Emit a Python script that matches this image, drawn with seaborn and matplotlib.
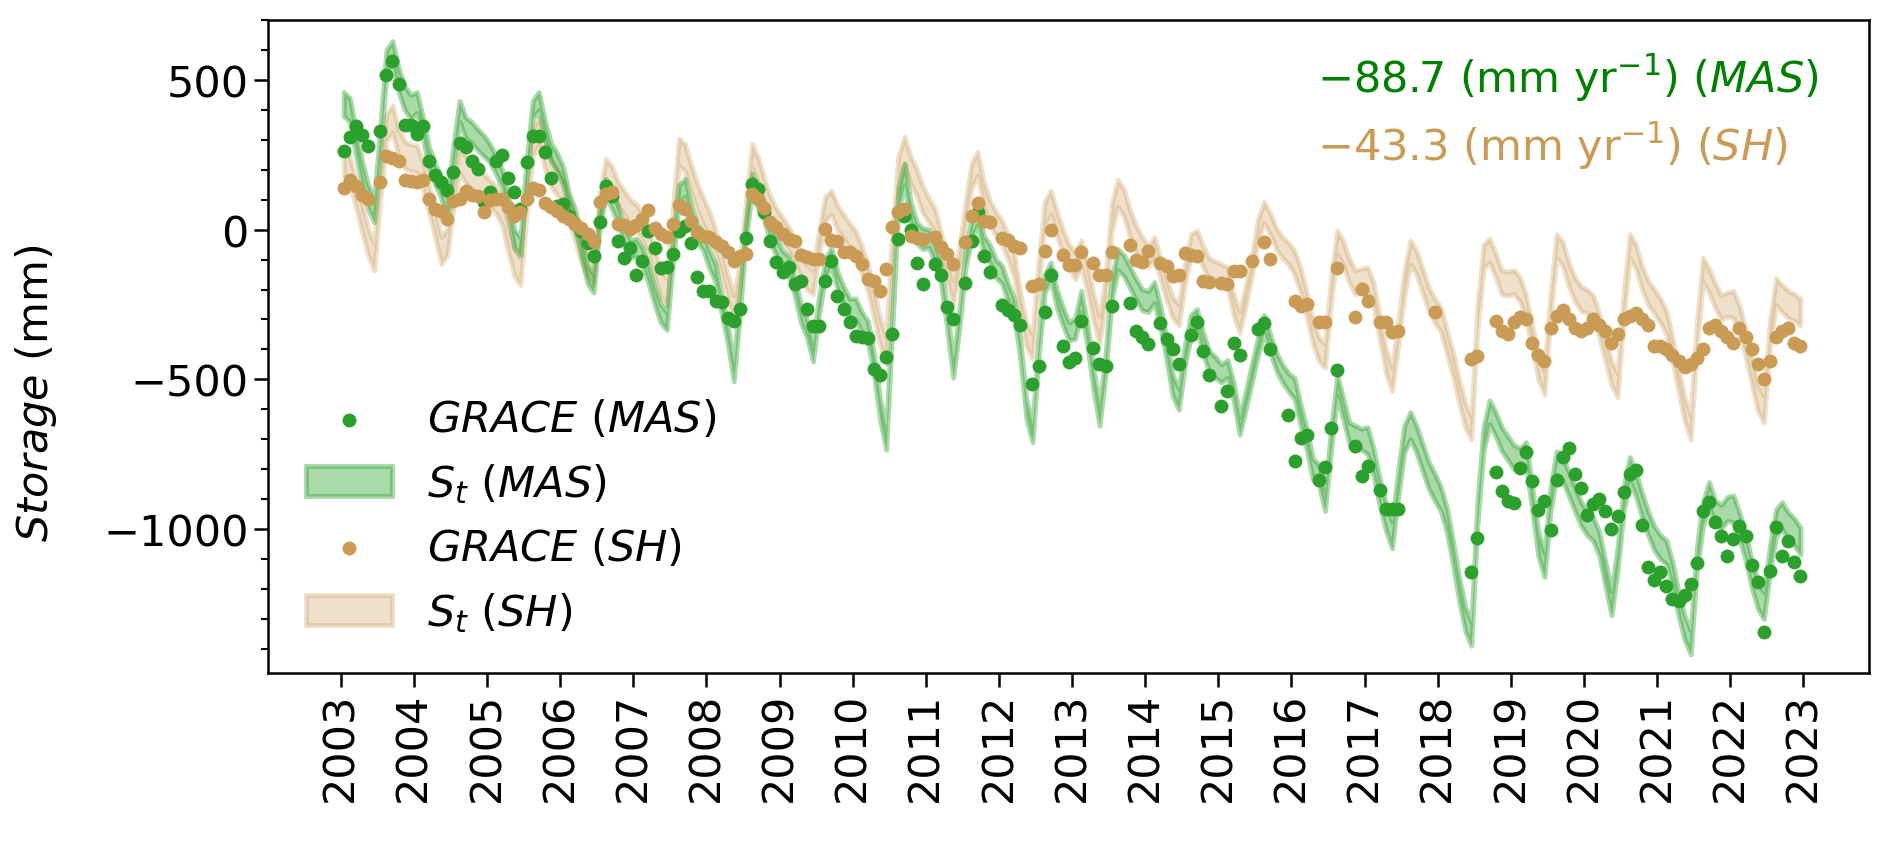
import numpy as np
import pandas as pd
import seaborn as sns
import matplotlib.pyplot as plt
from matplotlib.ticker import MultipleLocator

# GRACE monthly storage (mm), Jan 2003 .. Dec 2022, None = no data
grace_mas = [
    264, 309, 345, 316, 281, None, 331, 517, 565, 487, 350, 350,
    320, 345, 230, 183, 158, 134, 192, 289, 275, 230, 203, 91,
    125, 230, 249, 171, 127, 69, 227, 312, 313, 258, 171, 80,
    86, 47, 20, -3, -45, -88, 25, 145, 113, -37, -94, -60,
    -151, -104, -3, -62, -129, -126, -81, -3, 11, -45, -159, -204,
    -204, -237, -243, -296, -304, -265, -29, 153, 136, 58, -37, -109,
    -140, -126, -182, -170, -265, -321, -321, -170, -104, -221, -265, -307,
    -356, -360, -363, -466, -486, -426, -349, -30, 47, 0, -112, -182,
    None, -115, -150, -257, -298, None, -179, -37, 60, -87, -141, None,
    -251, -267, -284, -320, None, -514, -455, -276, -150, None, -389, -443,
    -428, -304, None, -395, -450, -454, -255, None, None, -246, -340, -358,
    -383, None, -312, -366, -399, -450, None, -353, -307, -405, -484, None,
    -590, -538, -380, -420, None, None, -333, -312, -399, None, None, -620,
    -774, -695, -687, None, -836, -794, -663, -469, None, None, -724, -823,
    -788, None, -869, -932, -932, -932, None, None, None, None, None, None,
    None, None, None, None, None, -1144, -1030, None, None, -809, -872, -905,
    -913, -797, -744, -838, -935, -905, -1005, -835, -760, -730, -815, -863,
    -953, -916, -900, -940, -1000, -955, -876, -815, -803, -986, -1128, -1172,
    -1145, -1189, -1234, -1239, -1220, -1184, -1113, -939, -911, -975, -1022, -1091,
    -1033, -989, -1022, -1120, -1176, -1343, -1139, -994, -1091, -1039, -1109, -1156,
]

grace_sh = [
    138, 165, 147, 116, 102, None, 160, 246, 240, 228, 165, 162,
    160, 167, 102, 70, 62, 35, 97, 102, 130, 115, 113, 58,
    100, 104, 102, 75, 45, 60, 101, 140, 134, 90, 75, 63,
    47, 36, 20, 5, -15, -37, 92, 120, 125, 20, 14, 2,
    14, 36, 67, 5, -14, -26, 19, 83, 70, 30, -9, -20,
    -23, -40, -54, -76, -104, -87, -80, 119, 103, 71, 25, 8,
    -14, -31, -37, -85, -92, -97, -98, 2, -35, -37, -74, -76,
    -87, -115, -165, -170, -204, -131, 8, 60, 69, -20, -29, -30,
    None, -25, -57, -81, -115, None, -40, 45, 89, 30, 25, None,
    -29, -35, -55, -60, None, -187, -180, -72, 0, None, -86, -118,
    -118, -76, None, -110, -153, -150, -73, None, None, -52, -100, -107,
    -70, None, -111, -120, -155, -150, -78, -85, -89, -170, -174, None,
    -178, -181, -137, -137, None, -105, None, -40, -98, None, None, None,
    -238, -254, -250, None, -308, -308, None, -128, None, None, -291, -198,
    -240, None, -308, -308, -343, -340, None, None, None, None, None, -276,
    None, None, None, None, None, -432, -421, None, None, -304, -337, -349,
    -309, -293, -300, -380, -420, -440, -330, -290, -270, -300, -330, -340,
    -330, -300, -320, -340, -380, -350, -300, -290, -280, -300, -320, -390,
    -390, -400, -420, -440, -460, -450, -430, -400, -330, -320, -340, -360,
    -380, -330, -360, -400, -450, -500, -440, -360, -340, -330, -380, -390,
]

# modelled storage S_t, monthly centre of the band
st_mas = [
    420, 400, 290, 190, 110, 65, 300, 560, 590, 500, 440, 410,
    425, 340, 240, 185, 140, 75, 250, 395, 340, 325, 300, 280,
    255, 215, 170, 80, -30, -55, 200, 400, 430, 335, 260, 225,
    180, 90, 35, -60, -150, -180, 40, 140, 100, 50, -20, -65,
    -60, -90, -150, -220, -280, -305, -80, 120, 140, 50, -10, -40,
    -100, -145, -250, -350, -477, -250, 0, 158, 100, 60, -10, -60,
    -100, -120, -190, -280, -330, -410, -250, -130, -90, -170, -220, -260,
    -265, -310, -340, -450, -600, -700, -300, 100, 185, 60, -10, -30,
    -30, -80, -150, -300, -465, -300, -100, 0, 45, -50, -80, -130,
    -150, -210, -260, -400, -600, -680, -400, -180, -140, -230, -290, -340,
    -330, -240, -350, -500, -620, -450, -200, -100, -120, -160, -200, -235,
    -240, -210, -290, -400, -520, -566, -420, -320, -300, -380, -440, -460,
    -480, -465, -540, -655, -570, -480, -390, -315, -380, -440, -480, -510,
    -530, -620, -700, -800, -820, -905, -700, -520, -600, -680, -690, -700,
    -705, -780, -880, -960, -1020, -850, -700, -655, -700, -760, -820, -860,
    -900, -970, -1080, -1200, -1300, -1350, -950, -700, -610, -650, -700, -730,
    -760, -770, -750, -900, -1050, -1120, -900, -780, -800, -850, -900, -950,
    -980, -1000, -1050, -1150, -1248, -1100, -900, -800, -850, -920, -980, -1030,
    -1060, -1078, -1150, -1250, -1330, -1379, -1100, -950, -883, -944, -960, -933,
    -933, -990, -1060, -1150, -1220, -1256, -1100, -980, -955, -990, -1010, -1040,
]

st_sh = [
    225, 200, 120, 40, -40, -92, 150, 340, 370, 290, 250, 240,
    236, 180, 100, 20, -70, -40, 120, 236, 200, 180, 160, 140,
    120, 100, 60, -30, -110, -140, 100, 290, 328, 250, 190, 160,
    130, 60, 0, -70, -120, -140, 80, 197, 170, 120, 91, 60,
    40, 10, -40, -110, -180, -209, 30, 259, 240, 170, 110, 60,
    20, -40, -110, -190, -260, -150, 60, 247, 200, 130, 70, 30,
    0, -30, -70, -120, -160, -176, -40, 70, 91, 40, 10, -20,
    -50, -100, -160, -250, -340, -405, -50, 200, 265, 200, 158, 100,
    65, 30, -50, -130, -209, -100, 50, 180, 220, 120, 58, 20,
    -10, -60, -120, -250, -350, -390, -150, 50, 91, 20, -40, -90,
    -120, -80, -160, -260, -335, -200, 40, 122, 90, 20, -30, -70,
    -90, -60, -130, -200, -260, -285, -150, -50, -38, -90, -130, -142,
    -150, -160, -250, -310, -220, -120, 0, 58, 20, -30, -60, -80,
    -110, -170, -250, -340, -400, -421, -200, -42, -80, -140, -176, -170,
    -165, -220, -330, -440, -499, -350, -180, -76, -110, -170, -232, -270,
    -300, -376, -450, -540, -620, -661, -300, -90, -70, -120, -176, -180,
    -175, -200, -260, -360, -460, -511, -250, -55, -80, -150, -200, -230,
    -240, -260, -320, -400, -480, -519, -250, -55, -90, -160, -210, -240,
    -270, -310, -400, -500, -600, -661, -350, -134, -170, -220, -260, -250,
    -250, -300, -380, -470, -560, -600, -350, -207, -230, -250, -260, -276,
]

# half width of the S_t band, one value per year
hw_mas = [40, 35, 30, 30, 30, 30, 30, 35, 30, 30, 35, 35, 30, 35, 45, 40, 40, 40, 40, 45]
hw_sh = [45, 45, 45, 40, 45, 40, 40, 45, 40, 40, 45, 35, 35, 40, 40, 40, 40, 40, 40, 45]

years = list(range(2003, 2024))
trend_mas = '\u221288.7 (mm yr$^{-1}$) ($MAS$)'
trend_sh = '\u221243.3 (mm yr$^{-1}$) ($SH$)'

GREEN = '#2ca02c'
TAN = '#c99b55'
FS = 31


def main():
    sns.set_style('ticks')
    plt.rcParams['font.family'] = ['DejaVu Sans']
    plt.rcParams['mathtext.fontset'] = 'dejavusans'
    for key in ('text.color', 'axes.labelcolor', 'xtick.color', 'ytick.color', 'axes.edgecolor'):
        plt.rcParams[key] = 'black'

    t = 2003 + (np.arange(len(st_mas)) + 0.5) / 12
    mid_mas = np.array(st_mas, dtype=float)
    mid_sh = np.array(st_sh, dtype=float)
    w_mas = np.repeat(hw_mas, 12)
    w_sh = np.repeat(hw_sh, 12)

    df = pd.DataFrame({
        't': t,
        'mas': pd.array(grace_mas, dtype='Float64'),
        'sh': pd.array(grace_sh, dtype='Float64'),
    })
    df_mas = df[['t', 'mas']].dropna().astype(float)
    df_sh = df[['t', 'sh']].dropna().astype(float)

    fig, ax = plt.subplots(figsize=(18.92, 8.45), dpi=100)
    fig.subplots_adjust(left=0.1414, right=0.988, bottom=0.2024, top=0.975)

    sns.scatterplot(data=df_mas, x='t', y='mas', ax=ax, color=GREEN, s=100,
                    linewidth=0, zorder=4, label=r'$GRACE$ ($MAS$)')
    ax.fill_between(t, mid_mas - w_mas, mid_mas + w_mas, color=GREEN,
                    alpha=0.4, lw=3.5, zorder=2, label=r'$S_t$ ($MAS$)')
    sns.scatterplot(data=df_sh, x='t', y='sh', ax=ax, color=TAN, s=100,
                    linewidth=0, zorder=5, label=r'$GRACE$ ($SH$)')
    ax.fill_between(t, mid_sh - w_sh, mid_sh + w_sh, color=TAN,
                    alpha=0.3, lw=3.5, zorder=1, label=r'$S_t$ ($SH$)')

    ax.set_xlim(2002.0, 2023.9)
    ax.set_ylim(-1481, 700)
    ax.set_xticks(years)
    ax.set_xticklabels([str(y) for y in years], rotation=90)
    ax.yaxis.set_major_locator(MultipleLocator(500))
    ax.yaxis.set_minor_locator(MultipleLocator(100))
    ax.tick_params(axis='both', which='major', labelsize=FS, length=10, width=1.8,
                   color='black', labelcolor='black')
    ax.tick_params(axis='y', which='minor', length=5, width=1.5, color='black')
    for sp in ax.spines.values():
        sp.set_visible(True)
        sp.set_linewidth(1.8)
        sp.set_color('black')

    ax.set_xlabel('')
    ax.set_ylabel(r'$Storage$ (mm)', fontsize=FS, color='black')
    ax.yaxis.set_label_coords(-0.13, 0.43)

    ax.text(0.655, 0.913, trend_mas, color='green', fontsize=FS,
            ha='left', va='center', transform=ax.transAxes)
    ax.text(0.655, 0.809, trend_sh, color=TAN, fontsize=FS,
            ha='left', va='center', transform=ax.transAxes)

    handles, labels = ax.get_legend_handles_labels()
    leg = ax.legend(handles, labels, loc='lower left', frameon=False, fontsize=FS)
    for txt in leg.get_texts():
        txt.set_color('black')

    plt.savefig('out.png', dpi=100)


if __name__ == "__main__":
    main()
